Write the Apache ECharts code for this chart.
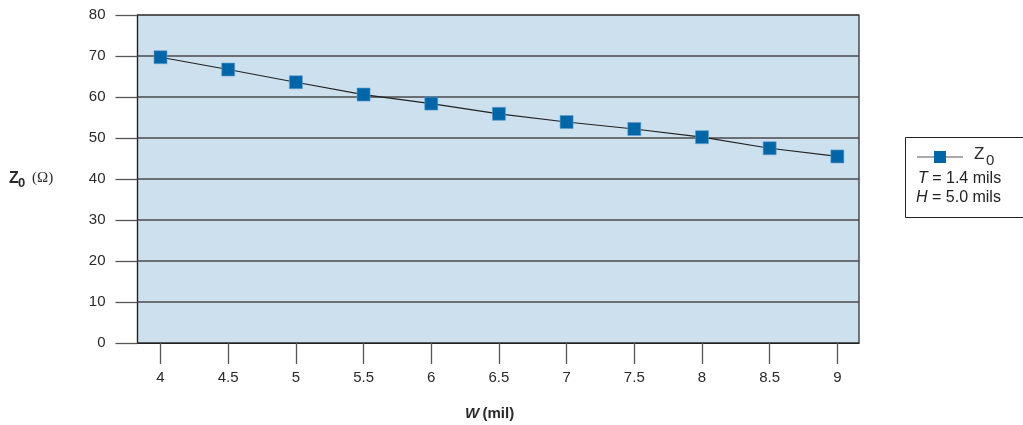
<!DOCTYPE html>
<html>
<head>
<meta charset="utf-8">
<script src="https://cdn.jsdelivr.net/npm/echarts@6/dist/echarts.min.js"></script>
<style>
html,body{margin:0;padding:0;background:#fff;}
#chart{width:1023px;height:425px;}
</style>
</head>
<body>
<div id="chart"></div>
<script>
var widths = [4, 4.5, 5, 5.5, 6, 6.5, 7, 7.5, 8, 8.5, 9];
var z0Values = [69.7, 66.7, 63.6, 60.6, 58.4, 55.9, 53.9, 52.2, 50.2, 47.5, 45.5];
var xTickLabels = [4, 4.5, 5, 5.5, 6, 6.5, 7, 7.5, 8, 8.5, 9];
var yTickLabels = [0, 10, 20, 30, 40, 50, 60, 70, 80];
var seriesName = 'Z0';
var legendNotes = ['T', ' = 1.4 mils', 'H', ' = 5.0 mils'];

var data = widths.map(function (w, i) { return [w, z0Values[i]]; });
var font = 'Liberation Sans, Arial, sans-serif';

var chart = echarts.init(document.getElementById('chart'));
chart.setOption({
  animation: false,
  backgroundColor: '#ffffff',
  grid: {
    left: 137.5, right: 164, top: 15, bottom: 82,
    show: true, backgroundColor: '#cde0ee', borderColor: '#222', borderWidth: 1.2
  },
  xAxis: {
    type: 'value', min: 3.83, max: 9.16,
    axisLine: { lineStyle: { color: '#222', width: 1.2 } },
    axisTick: { show: true, length: 21, customValues: xTickLabels, lineStyle: { color: '#555', width: 1.3 } },
    axisLabel: { customValues: xTickLabels, margin: 27, color: '#2a2a2a', fontSize: 15, fontFamily: font,
      formatter: function (v) { return String(v); } },
    splitLine: { show: false }
  },
  yAxis: {
    type: 'value', min: 0, max: 80, interval: 10,
    axisLine: { show: true, lineStyle: { color: '#222', width: 1.2 } },
    axisTick: { show: true, length: 22, lineStyle: { color: '#555', width: 1.3 } },
    axisLabel: { margin: 32, color: '#2a2a2a', fontSize: 15, fontFamily: font,
      formatter: function (v) { return yTickLabels.indexOf(v) >= 0 ? String(v) : ''; } },
    splitLine: { show: true, lineStyle: { color: '#4a4a4a', width: 1.5 } }
  },
  series: [{
    name: seriesName,
    type: 'line',
    data: data,
    symbol: 'rect',
    symbolSize: 13,
    itemStyle: { color: '#0066a8', borderColor: '#5d9fd0', borderWidth: 0.6 },
    lineStyle: { color: '#222', width: 1.2 },
    z: 5
  }],
  graphic: [
    { type: 'text', left: 465, top: 406, style: { text: '{w|W} {m|(mil)}', rich: {
        w: { fontFamily: font, fontWeight: 'bold', fontStyle: 'italic', fontSize: 15, fill: '#2a2a2a' },
        m: { fontFamily: font, fontWeight: 'bold', fontSize: 15, fill: '#2a2a2a' } } } },
    { type: 'text', left: 9, top: 171, style: { text: 'Z', fontFamily: font, fontWeight: 'bold', fontSize: 16, fill: '#2a2a2a' } },
    { type: 'text', left: 18, top: 177, style: { text: '0', fontFamily: font, fontWeight: 'bold', fontSize: 13, fill: '#2a2a2a' } },
    { type: 'text', left: 32, top: 171, style: { text: '(\u03A9)', fontFamily: 'Liberation Serif, serif', fontSize: 15, fill: '#2a2a2a' } },
    { type: 'rect', shape: { x: 905.5, y: 137.5, width: 130, height: 80 }, style: { fill: '#fff', stroke: '#222', lineWidth: 1 } },
    { type: 'line', shape: { x1: 917, y1: 157, x2: 963, y2: 157 }, style: { stroke: '#555', lineWidth: 1.2 } },
    { type: 'rect', shape: { x: 934, y: 151, width: 12, height: 12 }, style: { fill: '#0066a8' } },
    { type: 'text', left: 974, top: 146, style: { text: 'Z', fontFamily: font, fontSize: 17, fill: '#2a2a2a' } },
    { type: 'text', left: 986, top: 153, style: { text: '0', fontFamily: font, fontSize: 15, fill: '#2a2a2a' } },
    { type: 'text', left: 918, top: 171, style: { text: '{i|' + legendNotes[0] + '}{n|' + legendNotes[1] + '}', rich: {
        i: { fontFamily: font, fontStyle: 'italic', fontSize: 16, fill: '#222' },
        n: { fontFamily: font, fontSize: 16, fill: '#222' } } } },
    { type: 'text', left: 916, top: 190, style: { text: '{i|' + legendNotes[2] + '}{n|' + legendNotes[3] + '}', rich: {
        i: { fontFamily: font, fontStyle: 'italic', fontSize: 16, fill: '#222' },
        n: { fontFamily: font, fontSize: 16, fill: '#222' } } } }
  ]
});
</script>
</body>
</html>
